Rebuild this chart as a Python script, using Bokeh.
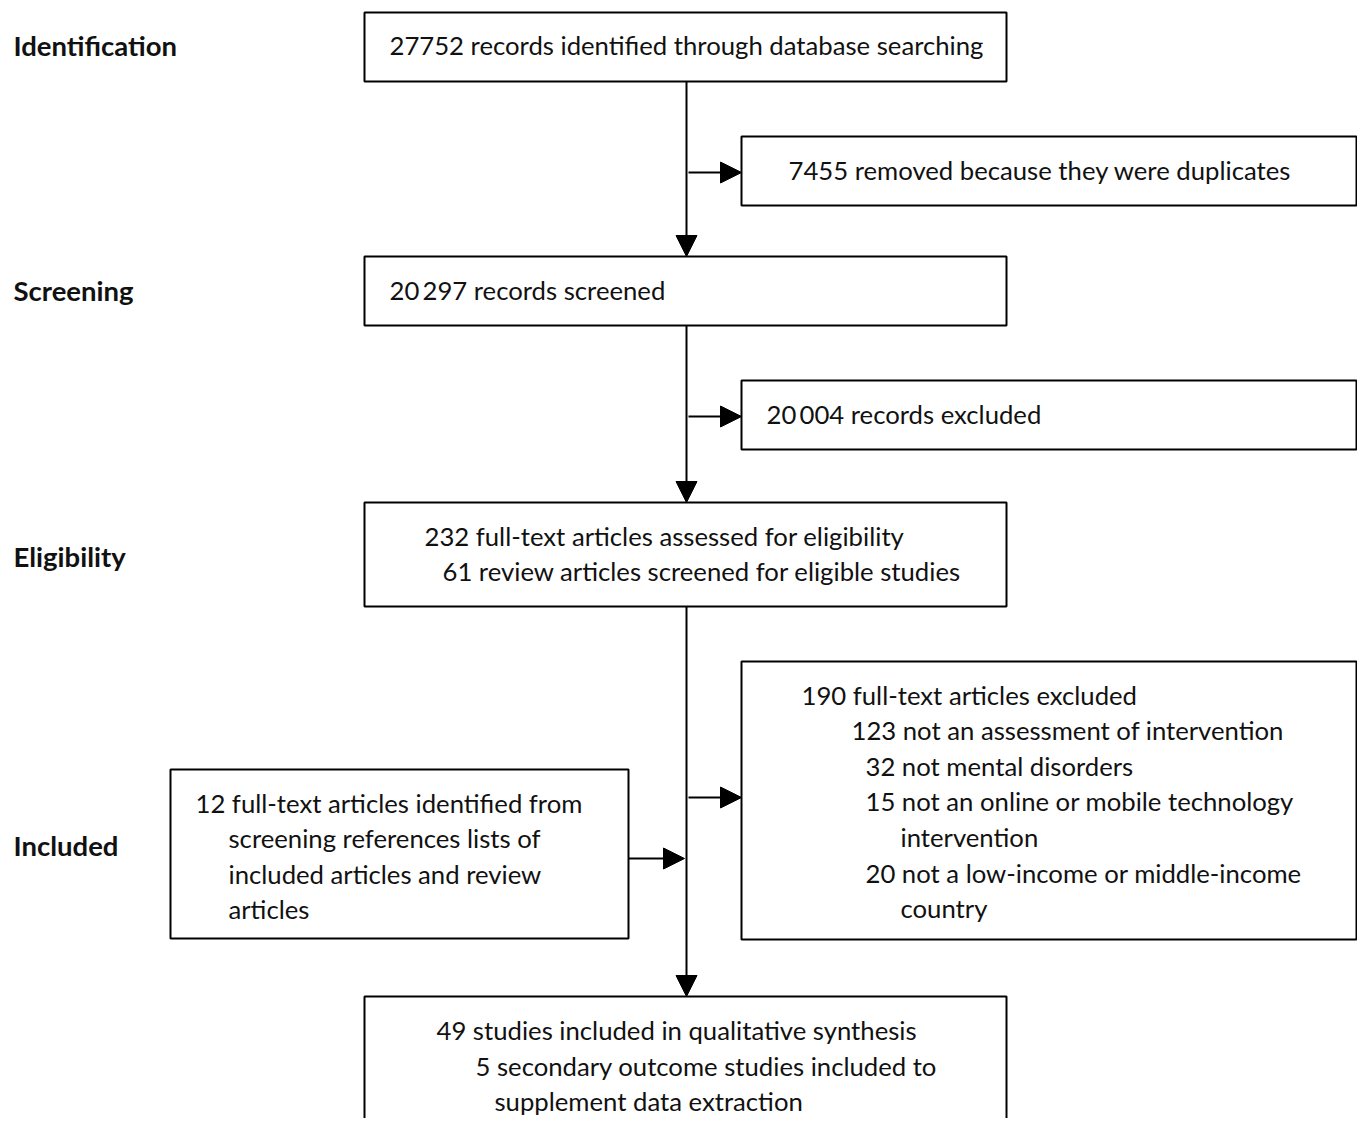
from bokeh.plotting import figure
from bokeh.models import Range1d, Arrow, NormalHead
from bokeh.core.properties import value
from bokeh.embed import file_html
from bokeh.resources import INLINE

FONT = "Lato"

# ---- data ----
stages = ["Identification", "Screening", "Eligibility", "Included"]
stage_y = [45, 290, 556, 845]

box_left = [364, 741, 364, 741, 364, 741, 170, 364]
box_right = [1006, 1356, 1006, 1356, 1006, 1356, 628, 1006]
box_top = [12, 136, 256, 380, 502, 661, 769, 996]
box_bottom = [81, 205, 325, 449, 606, 939, 938, 1160]

lines_text = [
    "27752 records identified through database searching",
    "7455 removed because they were duplicates",
    "20\u2009297 records screened",
    "20\u2009004 records excluded",
    "232 full-text articles assessed for eligibility",
    "61 review articles screened for eligible studies",
    "190 full-text articles excluded",
    "123 not an assessment of intervention",
    "32 not mental disorders",
    "15 not an online or mobile technology",
    "intervention",
    "20 not a low-income or middle-income",
    "country",
    "12 full-text articles identified from",
    "screening references lists of",
    "included articles and review",
    "articles",
    "49 studies included in qualitative synthesis",
    "5 secondary outcome studies included to",
    "supplement data extraction",
]
lines_x = [389, 788, 389, 766, 424, 442, 801, 851, 865, 865, 900, 865, 900,
           195, 228, 228, 228, 436, 475, 494]
lines_y = [44, 169, 289, 413, 535, 570, 694, 729, 765, 800, 836, 872, 907,
           802, 837, 873, 908, 1029, 1065, 1100]

# arrows: (x0, y0, x1, y1)
arrows = [
    (686, 81, 686, 256),
    (686, 325, 686, 502),
    (686, 606, 686, 996),
    (688, 172, 741, 172),
    (688, 416, 741, 416),
    (688, 797, 741, 797),
    (628, 858, 684, 858),
]

W, H = 1357, 1118
p = figure(width=W, height=H, output_backend="svg", toolbar_location=None,
           x_range=Range1d(0, W), y_range=Range1d(H, 0),
           x_axis_location=None, y_axis_location=None, min_border=0)
p.outline_line_color = None
p.grid.visible = False
p.background_fill_color = "white"

p.quad(left=box_left, right=box_right, top=box_top, bottom=box_bottom,
       fill_color=None, line_color="black", line_width=2)

for (x0, y0, x1, y1) in arrows:
    p.add_layout(Arrow(x_start=x0, y_start=y0, x_end=x1, y_end=y1,
                       line_color="black", line_width=2,
                       end=NormalHead(size=21, fill_color="black", line_color="black", line_width=1)))

p.text(x=lines_x, y=lines_y, text=lines_text, text_font=value(FONT),
       text_font_size="25.7px", text_baseline="middle", text_align="left", text_color="#111111")

p.text(x=[13] * len(stages), y=stage_y, text=stages, text_font=value(FONT),
       text_font_size="27.5px", text_font_style="bold", text_baseline="middle",
       text_align="left", text_color="#111111")

open("out.html", "w").write(file_html(p, INLINE))
